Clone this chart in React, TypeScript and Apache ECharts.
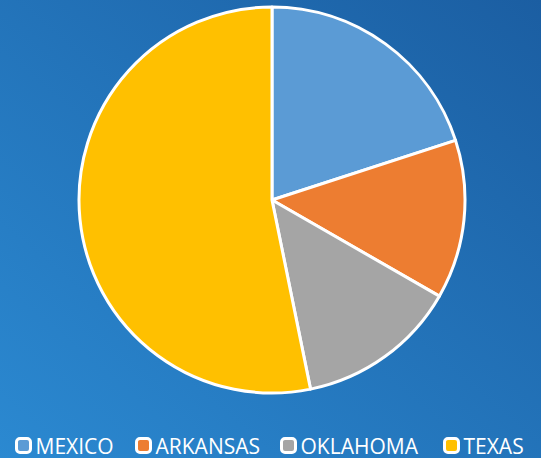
import React, { useEffect, useRef } from "react";
import * as echarts from "echarts";

const categories = ["MEXICO", "ARKANSAS", "OKLAHOMA", "TEXAS"];
const values = [20.0, 13.3, 13.5, 53.2];
const colors = ["#5b9bd5", "#ed7d31", "#a5a5a5", "#ffc000"];
const legendLefts = [15, 135, 280, 443];

export default function App() {
  const ref = useRef<HTMLDivElement>(null);
  useEffect(() => {
    document.body.style.margin = "0";
    if (!ref.current) return;
    const chart = echarts.init(ref.current, undefined, { renderer: "svg" });
    chart.setOption({
      animation: false,
      backgroundColor: {
        type: "linear",
        x: 0,
        y: 1,
        x2: 1,
        y2: 0,
        colorStops: [
          { offset: 0, color: "#2b89d1" },
          { offset: 1, color: "#1b5ea2" },
        ],
      },
      legend: categories.map((c, i) => ({
        top: 435,
        left: legendLefts[i],
        icon: "roundRect",
        itemWidth: 14,
        itemHeight: 14,
        padding: 0,
        textStyle: { color: "#ffffff", fontSize: 21, fontFamily: "Open Sans" },
        itemStyle: { borderColor: "#ffffff", borderWidth: 3 },
        data: [c],
      })),
      series: [
        {
          type: "pie",
          center: [272, 200],
          radius: [0, 193],
          startAngle: 90,
          clockwise: true,
          label: { show: false },
          labelLine: { show: false },
          itemStyle: { borderColor: "#ffffff", borderWidth: 3 },
          data: categories.map((c, i) => ({
            name: c,
            value: values[i],
            itemStyle: { color: colors[i] },
          })),
        },
      ],
    });
    return () => chart.dispose();
  }, []);
  return <div ref={ref} style={{ width: 541, height: 458 }} />;
}
